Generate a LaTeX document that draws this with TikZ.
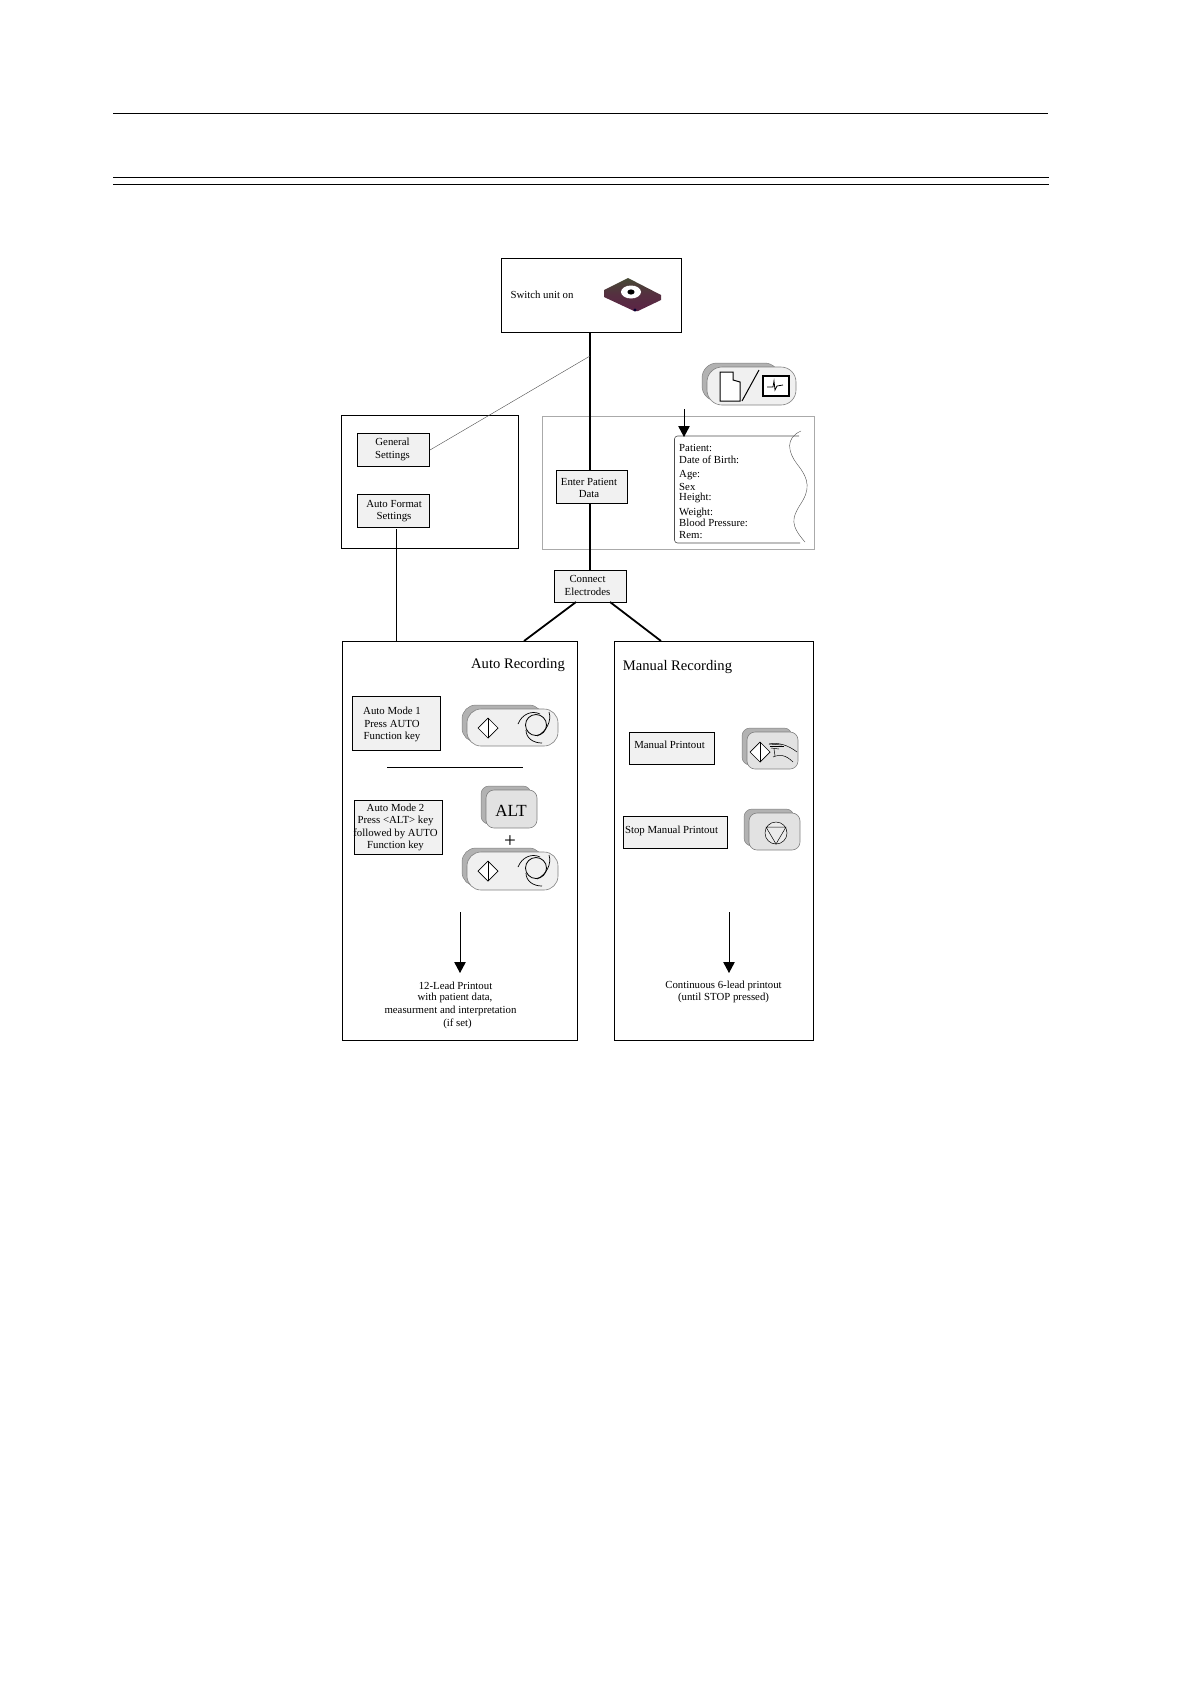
\documentclass[tikz,border=0pt]{standalone}
\usepackage{fontspec}
\setmainfont{Liberation Serif}
\usepackage{tikz}
\usetikzlibrary{arrows.meta,positioning,calc}
\definecolor{boxgrey}{RGB}{241,241,241}
\definecolor{keygrey}{RGB}{226,226,226}
\definecolor{keylight}{RGB}{240,240,240}
\definecolor{keyback}{RGB}{178,178,178}
\definecolor{frameline}{RGB}{170,170,170}
\definecolor{discolive}{RGB}{70,74,52}
\definecolor{discmaroon}{RGB}{92,36,70}
% back and front plate of a panel key: left, top, right, bottom, fill
\newcommand{\keyplate}[6][6]{
    \fill[keyback, draw=gray, line width=0.5pt, rounded corners=#1pt] (#2-5,#3-4) rectangle (#4-1.5*#1+6,#5-4);
    \draw[draw=gray, line width=0.6pt, fill=#6, rounded corners=#1pt] (#2,#3) rectangle (#4,#5);
}
% diamond with the middle stroke
\newcommand{\startsign}[2]{
    \draw[line width=0.7pt, fill=white] (#1-10,#2) -- (#1,#2-10) -- (#1+10,#2) -- (#1,#2+10) -- cycle;
    \draw[line width=0.4pt] (#1,#2-10) -- (#1,#2+10);
}
% circle with the three blades round it
\newcommand{\autosign}[2]{
    \draw[line width=0.8pt] (#1,#2) circle (10.5);
    \draw[line width=0.7pt] (#1-18,#2-1) .. controls (#1-14,#2-11) and (#1-4,#2-15) .. (#1+4,#2-11);
    \draw[line width=0.7pt] (#1+13,#2-13) .. controls (#1+16,#2-4) and (#1+10,#2+7) .. (#1+1,#2+11);
    \draw[line width=0.7pt] (#1-10,#2+5) .. controls (#1-10,#2+13) and (#1-3,#2+18) .. (#1+6,#2+18);
}
\begin{document}
\begin{tikzpicture}[
    x=1pt, y=-1pt,
    every node/.style={font=\fontsize{10.8}{12.6}\selectfont, align=center, inner sep=0pt},
    frame/.style={rectangle, draw=black, line width=1pt, anchor=north west},
    stepbox/.style={frame, fill=boxgrey},
    sheetline/.style={anchor=west, align=left},
    title/.style={font=\fontsize{14.6}{17}\selectfont},
    thickline/.style={line width=1.8pt},
    thinline/.style={line width=0.9pt},
    pointer/.style={line width=0.9pt, -{Triangle[width=11.5pt,length=11pt]}}
]
    \useasboundingbox (0,0) rectangle (1190,1684);
    % header rules
    \coordinate (ruleA) at (113,113.5);
    \coordinate (ruleAend) at (1048,113.5);
    \coordinate (ruleB) at (113,177.5);
    \coordinate (ruleBend) at (1049,177.5);
    \coordinate (ruleC) at (113,184.5);
    \coordinate (ruleCend) at (1049,184.5);
    \draw[line width=1pt] (ruleA) -- (ruleAend);
    \draw[line width=1pt] (ruleB) -- (ruleBend);
    \draw[line width=1pt] (ruleC) -- (ruleCend);

    % frames
    \node[frame, minimum width=180pt, minimum height=74pt] (switchbox) at (501,258) {};
    \node (switchtext) at (542,295) {Switch unit on};
    \node[frame, minimum width=177.5pt, minimum height=133pt] (settingsbox) at (340.8,415) {};
    \node[frame, draw=frameline, minimum width=272pt, minimum height=133pt] (patientbox) at (542,416) {};
    \node[frame, minimum width=234.5pt, minimum height=399pt] (autobox) at (342,641) {};
    \node[frame, minimum width=198.5pt, minimum height=399pt] (manualbox) at (614,641) {};

    % disc symbol
    \shade[top color=discolive, bottom color=discmaroon, middle color=discmaroon!70!discolive]
        (604,290) -- (628,278) -- (661,295) -- (661,300) -- (638,311) -- (634,311) -- (604,297) -- cycle;
    \fill[white] (631,292) ellipse (10 and 6.5);
    \fill[black] (631,292) ellipse (3.6 and 2.6);
    \fill[black!80!blue] (635,310) circle (1.6);

    % steps
    \node[stepbox, minimum width=72pt, minimum height=33pt] (general) at (357,433) {};
    \node (generaltext) at (392.5,449.5) {General\\Settings};
    \node[stepbox, minimum width=72pt, minimum height=33pt] (autoformat) at (357,494) {};
    \node (formattext) at (394,511) {Auto Format\\Settings};
    \node[stepbox, minimum width=71.5pt, minimum height=33pt] (enterdata) at (555.5,470) {};
    \node (entertext) at (589,488) {Enter Patient\\Data};
    \node[stepbox, minimum width=72pt, minimum height=32pt] (electrodes) at (554,570) {};
    \node (electrodetext) at (587.5,585.5) {Connect\\Electrodes};

    % connectors
    \coordinate (branch) at (590,356);
    \coordinate (autoinlet) at (396,641);
    \coordinate (switchfoot) at (590,332);
    \coordinate (enterhead) at (590,470);
    \coordinate (enterfoot) at (590,503);
    \coordinate (electrodehead) at (590,570);
    \coordinate (formatfoot) at (396,529);
    \draw[thickline] (switchfoot) -- (enterhead);
    \draw[thickline] (enterfoot) -- (electrodehead);
    \draw[line width=0.4pt, black!70] (general.east) -- (branch);
    \draw[thinline] (formatfoot) -- (autoinlet);
    \coordinate (splitL) at (576,602);
    \coordinate (splitR) at (610,602);
    \coordinate (autohead) at (524,641);
    \coordinate (manualhead) at (661,641);
    \draw[thickline] (splitL) -- (autohead);
    \draw[thickline] (splitR) -- (manualhead);

    % patient sheet
    \draw[line width=0.6pt, black!70, rounded corners=3pt] (799,436) -- (674.5,436) -- (674.5,543) -- (800,543);
    \draw[line width=0.4pt, black!70] (801,431) .. controls (785,438) and (788,452) .. (797,464)
        .. controls (810,480) and (810,490) .. (800,505) .. controls (792,518) and (790,525) .. (805,542);
    \draw[line width=0.6pt, black!25] (690,542.5) -- (800,542.5);
    \node[sheetline] (line1) at (679,448) {Patient:};
    \node[sheetline] (line2) at (679,460) {Date of Birth:};
    \node[sheetline] (line3) at (679,475) {Age:};
    \node[sheetline] (line4) at (679,487) {Sex};
    \node[sheetline] (line5) at (679,498) {Height:};
    \node[sheetline] (line6) at (679,512.5) {Weight:};
    \node[sheetline] (line7) at (679,523) {Blood Pressure:};
    \node[sheetline] (line8) at (679,535.5) {Rem:};
    \coordinate (sheetarrow) at (684,409);
    \coordinate (sheethead) at (684,437);
    \draw[pointer] (sheetarrow) -- (sheethead);

    % report key
    \keyplate[15]{707}{367}{796}{405}{keylight}
    \draw[line width=1pt, fill=white] (720,372) -- (733,372) -- (733,380) -- (740,382) -- (740,401) -- (720,401) -- cycle;
    \draw[line width=1pt] (742,401) -- (759,370);
    \draw[line width=1.1pt, fill=white] (763,376) rectangle (789,396);
    \draw[line width=0.8pt] (767,387) -- (773,387) -- (774,381) -- (775,390) -- (777,386) -- (783,385);

    % auto recording
    \node[title] (autotitle) at (518,665.5) {Auto Recording};
    \node[stepbox, minimum width=87.5pt, minimum height=54pt] (automode1) at (352,696) {};
    \node (mode1text) at (392,724.5) {Auto Mode 1\\Press AUTO\\Function key};
    \coordinate (dividerA) at (387,767);
    \coordinate (dividerB) at (523,767);
    \draw[thinline] (dividerA) -- (dividerB);
    \node[stepbox, minimum width=87.5pt, minimum height=54pt] (automode2) at (354,800) {};
    \node (mode2text) at (395.5,827.5) {Auto Mode 2\\Press <ALT> key\\followed by AUTO\\Function key};
    \keyplate[14]{467}{709}{558}{746}{keylight}
    \startsign{488}{728}
    \autosign{536}{725}
    \keyplate[8]{486}{790}{537}{828}{keygrey}
    \node[font=\fontsize{17}{20}\selectfont] (altkey) at (511,810.5) {ALT};
    \node[font=\fontsize{21}{24}\selectfont] (plussign) at (510,841.5) {+};
    \keyplate[14]{467}{852}{558}{890}{keylight}
    \startsign{488}{871}
    \autosign{536}{868}
    \coordinate (autoarrow) at (460,912);
    \coordinate (autoarrowend) at (460,973);
    \draw[pointer] (autoarrow) -- (autoarrowend);
    \node (result1) at (455.5,985.5) {12-Lead Printout};
    \node (result2) at (455,998) {with patient data,};
    \node (result3) at (450.5,1011) {measurment and interpretation};
    \node (result4) at (457.5,1024) {(if set)};

    % manual recording
    \node[title] (manualtitle) at (677.5,667.5) {Manual Recording};
    \node[stepbox, minimum width=84.5pt, minimum height=32pt] (manualprint) at (629,732) {};
    \node (manualtext) at (669.5,745) {Manual Printout};
    \node[stepbox, minimum width=103.5pt, minimum height=32pt] (stopprint) at (623,816) {};
    \node (stoptext) at (671.5,831) {Stop Manual Printout};
    \keyplate[8]{747}{732}{798}{769}{keygrey}
    \startsign{760}{752}
    % hand on the key
    \draw[line width=0.5pt] (769,744) .. controls (778,742) and (788,745) .. (797,752);
    \draw[line width=0.5pt] (769,744) -- (782,745);
    \draw[line width=0.5pt] (770,746) -- (784,746);
    \draw[line width=0.5pt] (771,748) -- (779,749);
    \draw[line width=0.5pt] (774,749) -- (775,756);
    \draw[line width=0.5pt] (773,757) .. controls (780,754) and (786,755) .. (793,762);
    \keyplate[8]{749}{813}{800}{850}{keygrey}
    \draw[line width=0.5pt, fill=white!92!black] (776,833) circle (11);
    \draw[line width=0.5pt] (766,827) -- (786,827) -- (776,844) -- cycle;
    \coordinate (manualarrow) at (729,912);
    \coordinate (manualarrowend) at (729,973);
    \draw[pointer] (manualarrow) -- (manualarrowend);
    \node (manualresult) at (723.5,992) {Continuous 6-lead printout\\(until STOP pressed)};
\end{tikzpicture}
\end{document}
